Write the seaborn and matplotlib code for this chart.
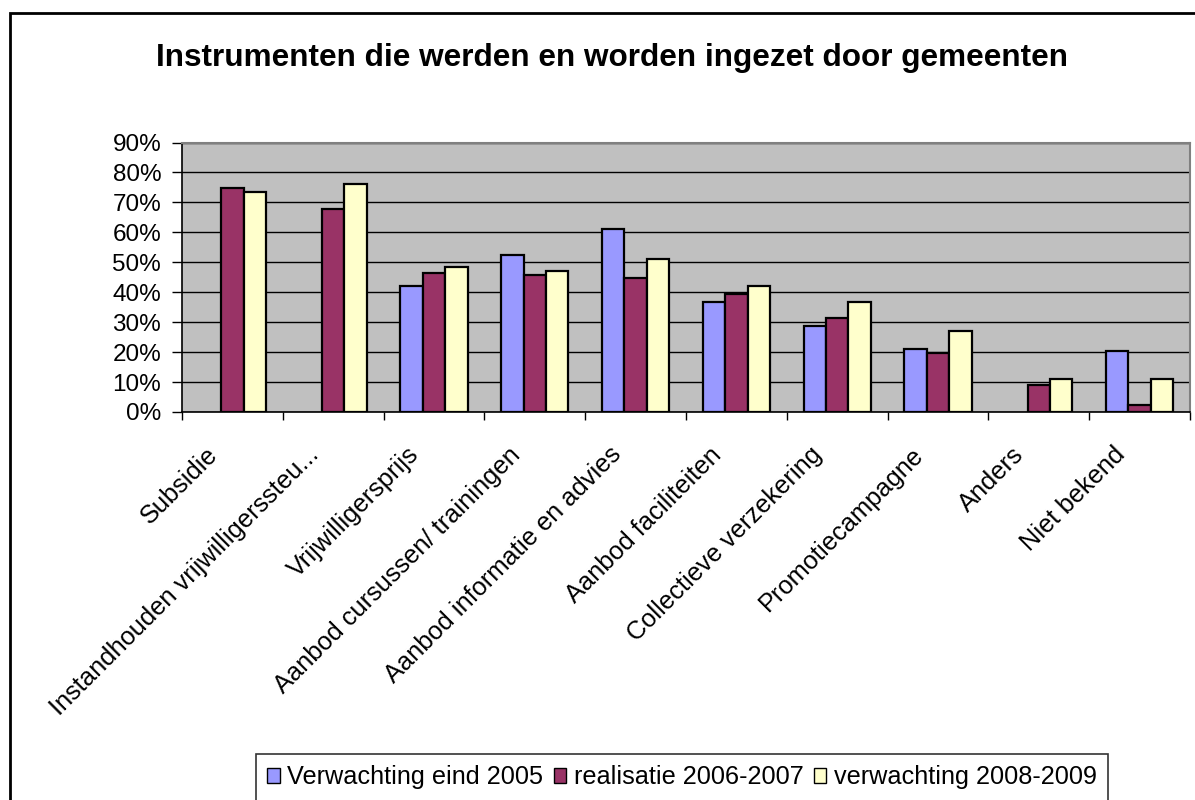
import numpy as np
import pandas as pd
import matplotlib
matplotlib.use("Agg")
import matplotlib.pyplot as plt
import matplotlib.transforms as mtransforms
import seaborn as sns
from matplotlib.patches import Rectangle
from matplotlib.ticker import FixedLocator, FuncFormatter

# Data (percent)
categories = ["Subsidie", "Instandhouden vrijwilligerssteu...", "Vrijwilligersprijs",
              "Aanbod cursussen/ trainingen", "Aanbod informatie en advies",
              "Aanbod faciliteiten", "Collectieve verzekering", "Promotiecampagne",
              "Anders", "Niet bekend"]
series = ["Verwachting eind 2005", "realisatie 2006-2007", "verwachting 2008-2009"]
verwachting_2005 = [np.nan, np.nan, 42.0, 52.4, 61.0, 36.7, 28.8, 21.0, np.nan, 20.3]
realisatie_2006_2007 = [74.8, 67.7, 46.5, 45.9, 44.6, 39.4, 31.4, 19.6, 9.0, 2.5]
verwachting_2008_2009 = [73.5, 76.2, 48.5, 47.2, 51.1, 42.0, 36.7, 26.9, 11.0, 11.0]
colors = ["#9999FF", "#993366", "#FFFFCC"]

df = pd.DataFrame({
    "categorie": categories * 3,
    "reeks": [series[0]] * 10 + [series[1]] * 10 + [series[2]] * 10,
    "waarde": verwachting_2005 + realisatie_2006_2007 + verwachting_2008_2009,
})

sns.set_style("white")
plt.rcParams["font.family"] = ["Liberation Sans", "DejaVu Sans"]
plt.rcParams["text.color"] = "black"
plt.rcParams["xtick.color"] = "black"
plt.rcParams["ytick.color"] = "black"
plt.rcParams["axes.labelcolor"] = "black"

fig = plt.figure(figsize=(11.95, 8), dpi=100)
ax = fig.add_axes([182 / 1195, 1 - 412 / 800, 1008 / 1195, 269.5 / 800])
ax.set_facecolor("#C0C0C0")

sns.barplot(data=df, x="categorie", y="waarde", hue="reeks", order=categories,
            hue_order=series, palette=colors, width=0.667, edgecolor="black",
            linewidth=1.6, saturation=1, ax=ax, legend=True, zorder=3)

ax.set_ylim(0, 90)
ax.set_xlim(-0.5, len(categories) - 0.5)
ax.yaxis.set_major_locator(FixedLocator(np.arange(0, 91, 10)))
ax.yaxis.set_major_formatter(FuncFormatter(lambda v, p: f"{v:.0f}%"))
ax.grid(axis="y", color="black", linewidth=1, zorder=0)
ax.set_axisbelow(True)
ax.set_xlabel("")
ax.set_ylabel("")

for s in ["top", "right"]:
    ax.spines[s].set_color("#808080")
    ax.spines[s].set_linewidth(1.5)
for s in ["left", "bottom"]:
    ax.spines[s].set_color("black")
    ax.spines[s].set_linewidth(1.2)

ax.tick_params(axis="y", which="major", length=7, width=1, color="black",
               labelsize=17.5, pad=8, left=True)
ax.set_xticks(np.arange(-0.5, len(categories), 1), minor=True)
ax.tick_params(axis="x", which="minor", length=6, width=1, color="black", bottom=True)
ax.tick_params(axis="x", which="major", length=0, pad=22)
ax.set_xticks(range(len(categories)))
ax.set_xticklabels(categories, rotation=45, ha="right", rotation_mode="anchor",
                   fontsize=18.3)
shift = mtransforms.ScaledTranslation(-27 / 100, 0, fig.dpi_scale_trans)
for lbl in ax.get_xticklabels():
    lbl.set_transform(lbl.get_transform() + shift)

fig.text(612 / 1195, 1 - 58 / 800,
         "Instrumenten die werden en worden ingezet door gemeenten",
         fontsize=22.7, fontweight="bold", ha="center", va="center")

# legend along the bottom
handles, labels = ax.get_legend_handles_labels()
ax.legend_.remove()
leg = fig.legend(handles, labels, loc="upper center", ncol=3,
                 bbox_to_anchor=(682 / 1195, 1 - 754 / 800), fontsize=18.2,
                 frameon=True, fancybox=False, edgecolor="black",
                 handlelength=0.5, handleheight=0.5, handletextpad=0.3,
                 columnspacing=0.4, borderpad=0.45, borderaxespad=0)
leg.get_frame().set_linewidth(1.2)
for h in leg.legend_handles:
    h.set_edgecolor("black")
    h.set_linewidth(1)

# outer chart border
fig.patches.append(Rectangle((10 / 1195, -0.1), 1.1, 1 - 13 / 800 + 0.1,
                             transform=fig.transFigure, fill=False,
                             edgecolor="black", linewidth=2))

fig.savefig("out.png", dpi=100)
